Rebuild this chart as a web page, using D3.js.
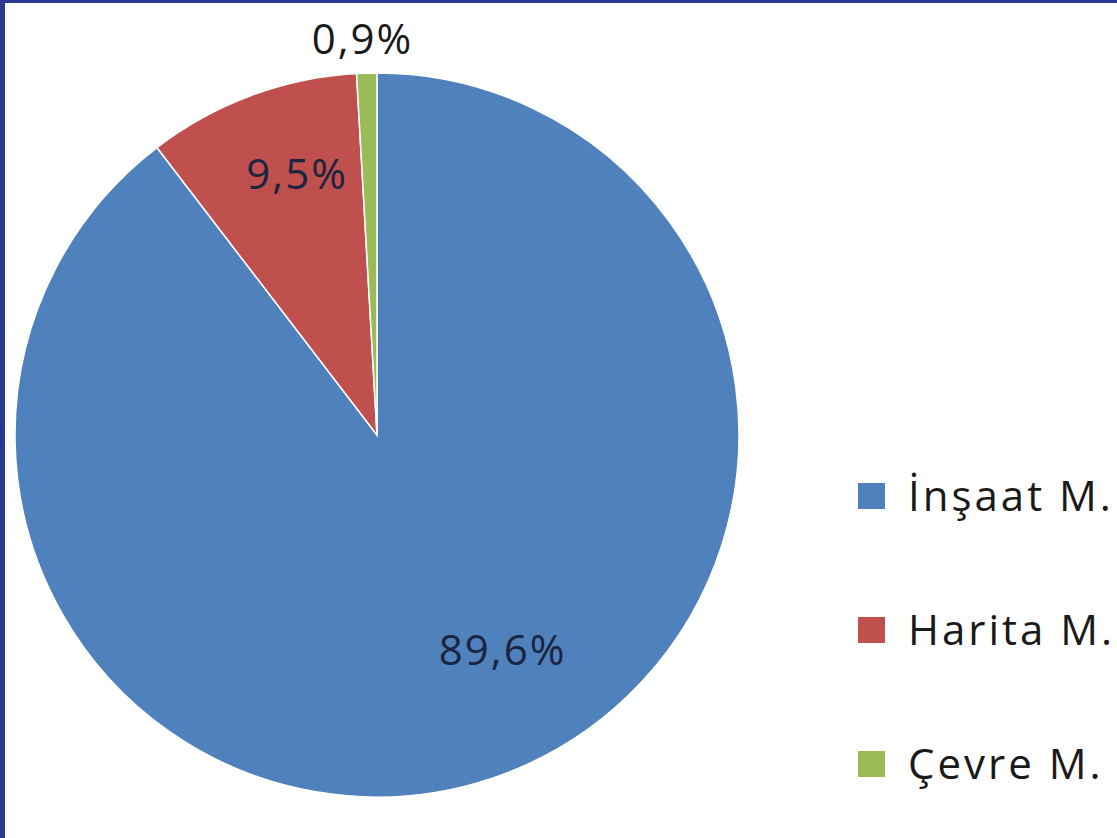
<!DOCTYPE html>
<html>
<head>
<meta charset="utf-8">
<script src="https://cdn.jsdelivr.net/npm/d3@7"></script>
<style>
  html, body { margin: 0; padding: 0; background: #2b3990; }
  svg { display: block; }
</style>
</head>
<body>
<svg id="chart" width="1117" height="838"></svg>
<script>
const categories = ["İnşaat M.", "Harita M.", "Çevre M."];
const values = [89.6, 9.5, 0.9];
const labels = ["89,6%", "9,5%", "0,9%"];
const colors = ["#4f81bd", "#c0504d", "#9bbb59"];

const svg = d3.select("#chart");
const W = 1117, H = 838;

// white panel inside dark blue frame
svg.append("rect").attr("x", 5).attr("y", 3).attr("width", W - 5).attr("height", H - 3).attr("fill", "#ffffff");

const cx = 377, cy = 435, R = 362;
const g = svg.append("g").attr("transform", `translate(${cx},${cy})`);

const pie = d3.pie().sort(null).value(d => d.v);
const data = categories.map((c, i) => ({ c, v: values[i], label: labels[i], color: colors[i] }));
const arcs = pie(data);
const arc = d3.arc().innerRadius(0).outerRadius(R);

g.selectAll("path.slice").data(arcs).enter().append("path")
  .attr("class", "slice")
  .attr("d", arc)
  .attr("fill", d => d.data.color)
  .attr("stroke", "#ffffff")
  .attr("stroke-width", 1.5);

// label placement (layout): radius factor and angle offset relative to slice mid-angle
const labelLayout = [
  { rf: 0.70, da: -11 },
  { rf: 0.74, da: 3 },
  { rf: 1.08, da: -0.5 }
];

g.selectAll("text.lbl").data(arcs).enter().append("text")
  .attr("class", "lbl")
  .attr("transform", (d, i) => {
    const mid = (d.startAngle + d.endAngle) / 2 + labelLayout[i].da * Math.PI / 180;
    const r = R * labelLayout[i].rf;
    return `translate(${Math.sin(mid) * r},${-Math.cos(mid) * r})`;
  })
  .attr("text-anchor", "middle")
  .attr("dy", "0.24em")
  .attr("font-family", "'Open Sans', 'DejaVu Sans', sans-serif")
  .attr("font-size", 42)
  .attr("letter-spacing", 2)
  .attr("fill", (d, i) => i === 2 ? "#1a1a1a" : "#1b2440")
  .text(d => d.data.label);

// legend
const legend = svg.append("g").attr("transform", "translate(858,0)");
const ly = d3.scalePoint().domain(categories).range([496, 764]);
const items = legend.selectAll("g.item").data(data).enter().append("g")
  .attr("class", "item")
  .attr("transform", d => `translate(0,${ly(d.c)})`);
items.append("rect")
  .attr("x", 0).attr("y", -13).attr("width", 27).attr("height", 26)
  .attr("fill", d => d.color);
items.append("text")
  .attr("x", 50).attr("y", 0).attr("dy", "0.36em")
  .attr("font-family", "'Open Sans', 'DejaVu Sans', sans-serif")
  .attr("font-size", 42)
  .attr("letter-spacing", 3)
  .attr("fill", "#1a1a1a")
  .text(d => d.c);
</script>
</body>
</html>
